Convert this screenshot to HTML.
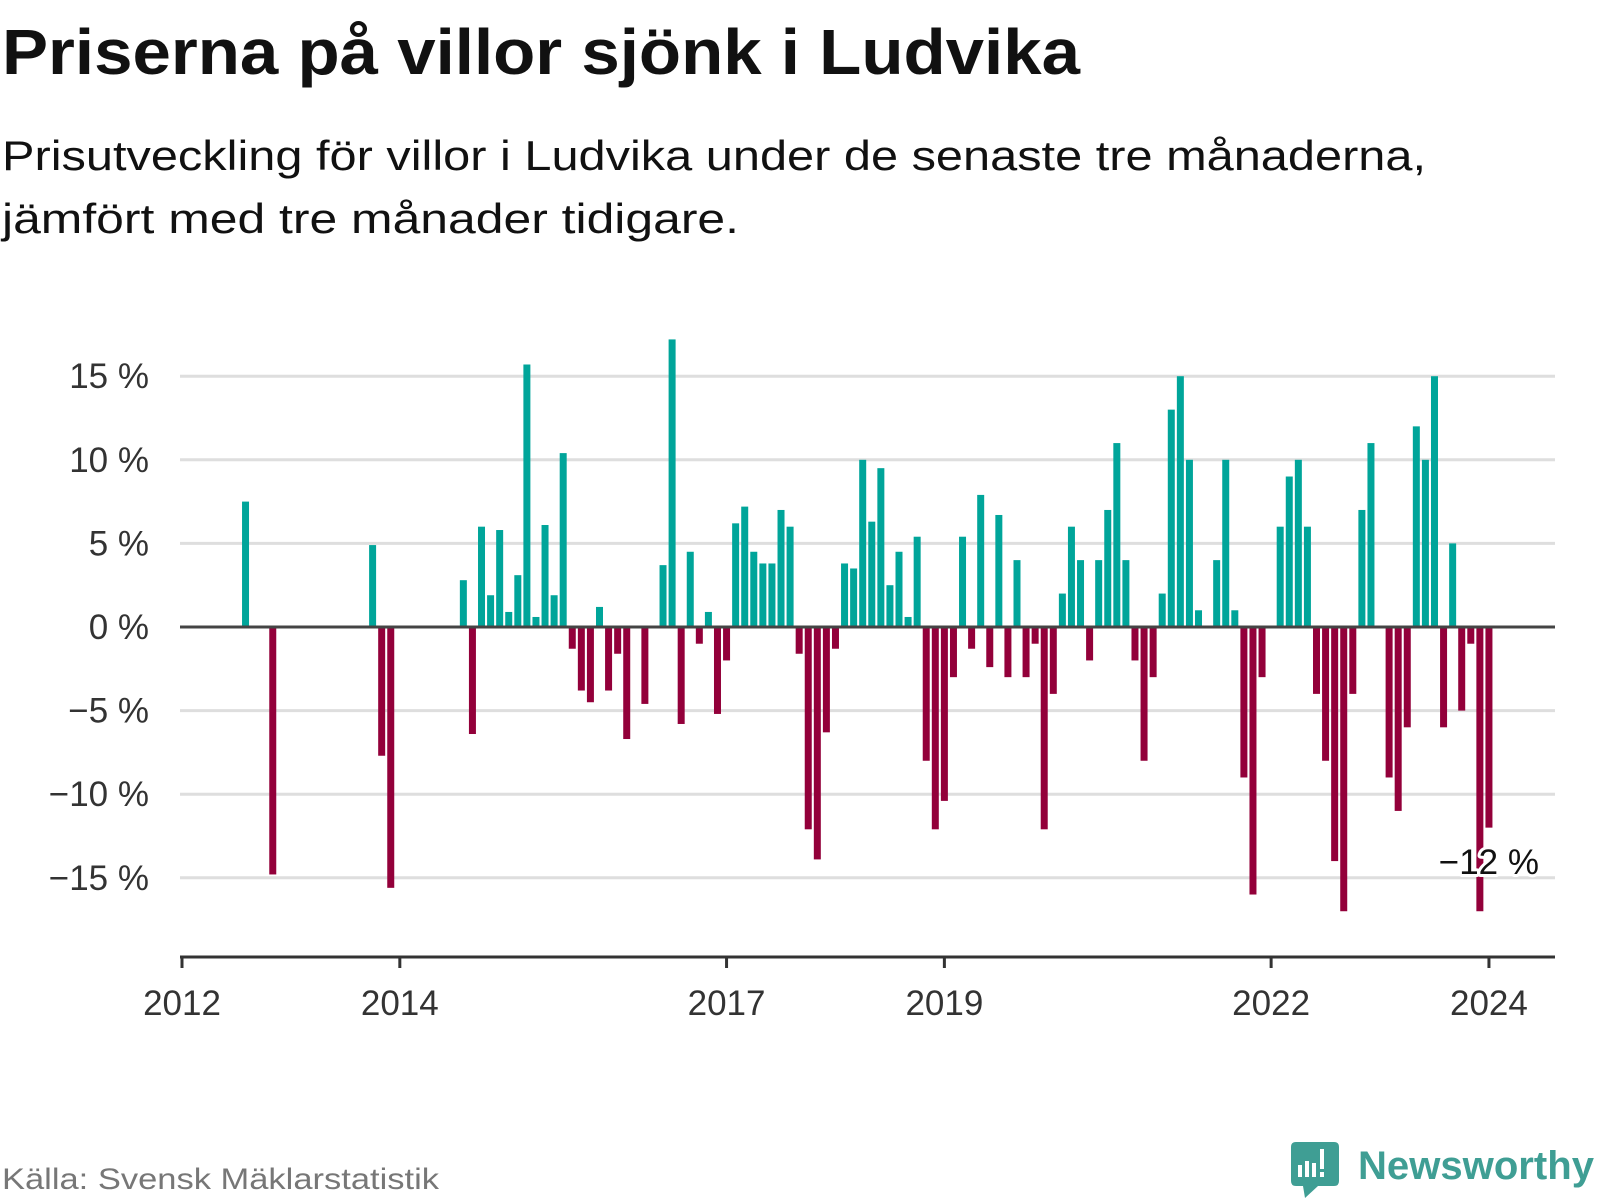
<!DOCTYPE html>
<html><head><meta charset="utf-8"><style>
html,body{margin:0;padding:0;background:#fff;width:1600px;height:1200px;overflow:hidden}
svg{display:block;font-family:"Liberation Sans",sans-serif}
</style></head><body>
<svg id="chart" width="1600" height="1200" viewBox="0 0 1600 1200">
<text x="2" y="74" font-size="64" font-weight="bold" fill="#111" textLength="1078" lengthAdjust="spacingAndGlyphs">Priserna på villor sjönk i Ludvika</text>
<text x="2" y="170" font-size="42" fill="#111" textLength="1424" lengthAdjust="spacingAndGlyphs">Prisutveckling för villor i Ludvika under de senaste tre månaderna,</text>
<text x="2" y="233" font-size="42" fill="#111" textLength="737" lengthAdjust="spacingAndGlyphs">jämfört med tre månader tidigare.</text>
<g id="grid"></g>
<g id="yticks"></g>
<g id="bars"></g>
<g id="xaxis"></g>
<text x="1539" y="874" font-size="35" fill="#111" text-anchor="end" stroke="#fff" stroke-width="6" paint-order="stroke" stroke-linejoin="round">−12 %</text>
<text x="2" y="1189" font-size="30" fill="#777" textLength="437" lengthAdjust="spacingAndGlyphs">Källa: Svensk Mäklarstatistik</text>
<g>
<path d="M1296 1142 H1334 Q1339 1142 1339 1147 V1181 Q1339 1186 1334 1186 H1318 L1305 1198 L1303 1186 H1296 Q1291 1186 1291 1181 V1147 Q1291 1142 1296 1142 Z" fill="#3f9e94"/>
<rect x="1298" y="1165" width="4" height="12" fill="#fff"/>
<rect x="1305" y="1161" width="4" height="16" fill="#fff"/>
<rect x="1312" y="1163" width="4" height="14" fill="#fff"/>
<rect x="1320" y="1149" width="4" height="20" fill="#fff"/>
<rect x="1320" y="1172" width="4" height="5" fill="#fff"/>
<text x="1358" y="1179" font-size="40" font-weight="bold" fill="#3f9e94" textLength="236" lengthAdjust="spacingAndGlyphs">Newsworthy</text>
</g>
</svg>
<script>
const startYear = 2012;
// monthly values, index 0 = 2012-01 (null = no bar)
const values = [
 null,null,null,null,null,null,null,7.5,null,null,-14.8,null,
 null,null,null,null,null,null,null,null,null,4.9,-7.7,-15.6,
 null,null,null,null,null,null,null,2.8,-6.4,6.0,1.9,5.8,
 0.9,3.1,15.7,0.6,6.1,1.9,10.4,-1.3,-3.8,-4.5,1.2,-3.8,
 -1.6,-6.7,null,-4.6,null,3.7,17.2,-5.8,4.5,-1.0,0.9,-5.2,
 -2.0,6.2,7.2,4.5,3.8,3.8,7.0,6.0,-1.6,-12.1,-13.9,-6.3,
 -1.3,3.8,3.5,10.0,6.3,9.5,2.5,4.5,0.6,5.4,-8.0,-12.1,
 -10.4,-3.0,5.4,-1.3,7.9,-2.4,6.7,-3.0,4.0,-3.0,-1.0,-12.1,
 -4.0,2.0,6.0,4.0,-2.0,4.0,7.0,11.0,4.0,-2.0,-8.0,-3.0,
 2.0,13.0,15.0,10.0,1.0,null,4.0,10.0,1.0,-9.0,-16.0,-3.0,
 null,6.0,9.0,10.0,6.0,-4.0,-8.0,-14.0,-17.0,-4.0,7.0,11.0,
 null,-9.0,-11.0,-6.0,12.0,10.0,15.0,-6.0,5.0,-5.0,-1.0,-17.0,
 -12.0
];
const yTicks = [15,10,5,0,-5,-10,-15];
const yTickLabels = ["15 %","10 %","5 %","0 %","−5 %","−10 %","−15 %"];
const xTickYears = [2012,2014,2017,2019,2022,2024];

const NS = "http://www.w3.org/2000/svg";
const X0 = 182, STEP = 9.076, Y0 = 627, PER = 16.72;
function xScale(m){ return X0 + m*STEP; }
function yScale(v){ return Y0 - v*PER; }
function mk(tag, attrs, parent){ const e=document.createElementNS(NS,tag); for(const k in attrs) e.setAttribute(k,attrs[k]); parent.appendChild(e); return e; }

const grid=document.getElementById('grid'), yt=document.getElementById('yticks');
yTicks.forEach((v,i)=>{
  if(v!==0){
    const l=mk('line',{x1:180,x2:1555,y1:yScale(v),y2:yScale(v),stroke:'#dedede','stroke-width':3},grid);
    
    
  }
  const t=mk('text',{x:149,y:yScale(v)+12,'font-size':35,fill:'#333','text-anchor':'end'},yt);
  t.textContent=yTickLabels[i];
  
  
});

const bars=document.getElementById('bars');
values.forEach((v,m)=>{
  if(v===null) return;
  const y=yScale(Math.max(v,0)), h=Math.abs(yScale(v)-Y0);
  const r=mk('rect',{x:xScale(m)-3.5,y:y,width:7,height:h,fill:v>=0?'#00a59a':'#93003a'},bars);
  
  
});
const zl=mk('line',{x1:180,x2:1555,y1:Y0,y2:Y0,stroke:'#444','stroke-width':3},bars);



const xa=document.getElementById('xaxis');
const al=mk('line',{x1:180,x2:1555,y1:957,y2:957,stroke:'#333','stroke-width':3},xa);


xTickYears.forEach(yr=>{
  const x=xScale((yr-startYear)*12);
  const tk=mk('line',{x1:x,x2:x,y1:957,y2:968,stroke:'#333','stroke-width':3},xa);
  
  
  const t=mk('text',{x:x,y:1015,'font-size':35,fill:'#333','text-anchor':'middle'},xa);
  t.textContent=String(yr);
  
  
});
</script>
</body></html>
